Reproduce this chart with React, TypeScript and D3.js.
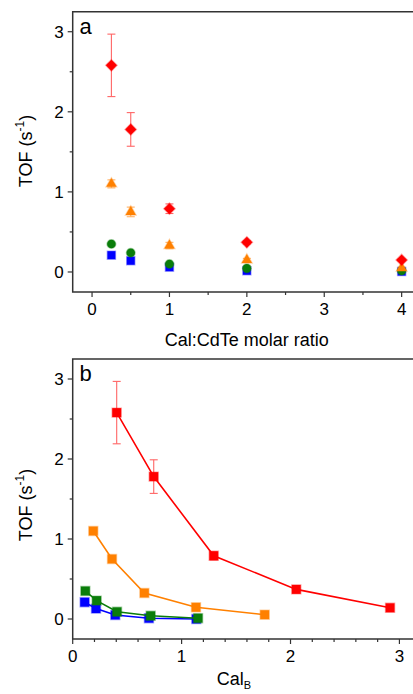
import React from "react";
import * as d3 from "d3";

// ---- Data (panel a: TOF vs CaI:CdTe molar ratio) ----
const ratioA = [0.25, 0.5, 1, 2, 4];
const redA = [2.58, 1.78, 0.79, 0.37, 0.15];
const redErrA = [0.39, 0.21, 0.06, 0.02, 0.01];
const orangeA = [1.1, 0.75, 0.33, 0.15, 0.05];
const orangeErrA = [0.05, 0.06, 0.04, 0.02, 0.01];
const greenA = [0.35, 0.24, 0.1, 0.045, 0.015];
const blueA = [0.21, 0.14, 0.06, 0.015, 0.005];

// ---- Data (panel b: TOF vs CaI_B) ----
const redBx = [0.404, 0.744, 1.295, 2.053, 2.914];
const redBy = [2.58, 1.78, 0.79, 0.37, 0.14];
const redErrB = [0.39, 0.21, 0.05, 0.02, 0.01];
const orangeBx = [0.189, 0.361, 0.658, 1.132, 1.763];
const orangeBy = [1.1, 0.75, 0.325, 0.146, 0.054];
const greenBx = [0.116, 0.22, 0.407, 0.716, 1.151];
const greenBy = [0.35, 0.23, 0.09, 0.04, 0.01];
const blueBx = [0.11, 0.214, 0.391, 0.7, 1.135];
const blueBy = [0.21, 0.13, 0.05, 0.01, 0.0];

const yTicks = [0, 1, 2, 3];
const yMinor = [0.5, 1.5, 2.5];
const xTicksA = [0, 1, 2, 3, 4];
const xMinorA = [0.5, 1.5, 2.5, 3.5];
const xTicksB = [0, 1, 2, 3];
const xMinorB = [0.2, 0.4, 0.6, 0.8, 1.2, 1.4, 1.6, 1.8, 2.2, 2.4, 2.6, 2.8, 3.2];

const RED = "#ff0000";
const ORANGE = "#ff8000";
const GREEN = "#0a7d0a";
const BLUE = "#0000ff";
const AXIS = "#333";
const FONT = "'Liberation Sans', Arial, sans-serif";

const xA = d3.scaleLinear().domain([-0.25, 4.25]).range([72.7, 421]);
const yA = d3.scaleLinear().domain([-0.25, 3.25]).range([292, 11.7]);
const xB = d3.scaleLinear().domain([0, 3.2]).range([72.7, 421.2]);
const yB = d3.scaleLinear().domain([-0.25, 3.25]).range([639, 359]);

const diamond = d3.symbol().type(d3.symbolSquare).size(62)();
const triangle = d3.symbol().type(d3.symbolTriangle).size(46)();
const circle = d3.symbol().type(d3.symbolCircle).size(58)();
const squareA = d3.symbol().type(d3.symbolSquare).size(64)();
const squareB = d3.symbol().type(d3.symbolSquare).size(80)();

type Sc = d3.ScaleLinear<number, number>;

function Axes({ x, y, xt, xm, yLabelY, letter, xLabel, xLabelX, xLabelY }: {
  x: Sc; y: Sc; xt: number[]; xm: number[]; yLabelY: number; letter: string;
  xLabel: React.ReactNode; xLabelX: number; xLabelY: number;
}) {
  const [x0, x1] = x.range();
  const [y0, y1] = y.range();
  return (
    <g fontFamily={FONT} fill="#000">
      <path d={`M${x1 + 5},${y1}H${x0}V${y0}H${x1 + 5}`} fill="none" stroke={AXIS} strokeWidth={1.5} />
      {xt.map((t) => (
        <g key={"xt" + t}>
          <line x1={x(t)} x2={x(t)} y1={y0} y2={y0 + 5} stroke={AXIS} strokeWidth={1.2} />
          <text x={x(t)} y={y0 + 23} textAnchor="middle" fontSize={17}>{t}</text>
        </g>
      ))}
      {xm.map((t) => (
        <line key={"xm" + t} x1={x(t)} x2={x(t)} y1={y0} y2={y0 + 3} stroke={AXIS} strokeWidth={1.2} />
      ))}
      {yTicks.map((t) => (
        <g key={"yt" + t}>
          <line x1={x0 - 5} x2={x0} y1={y(t)} y2={y(t)} stroke={AXIS} strokeWidth={1.2} />
          <text x={x0 - 9} y={y(t) + 6} textAnchor="end" fontSize={17}>{t}</text>
        </g>
      ))}
      {yMinor.map((t) => (
        <line key={"ym" + t} x1={x0 - 3} x2={x0} y1={y(t)} y2={y(t)} stroke={AXIS} strokeWidth={1.2} />
      ))}
      <text x={79.5} y={y1 + 22} fontSize={22}>{letter}</text>
      <text transform={`translate(32,${yLabelY}) rotate(-90)`} textAnchor="middle" fontSize={18}>
        TOF (s<tspan fontSize={12} dy={-8}>-1</tspan><tspan dy={8}>)</tspan>
      </text>
      <text x={xLabelX} y={xLabelY} textAnchor="middle" fontSize={18}>{xLabel}</text>
    </g>
  );
}

function ErrBars({ xs, ys, errs, x, y, color }: { xs: number[]; ys: number[]; errs: number[]; x: Sc; y: Sc; color: string }) {
  return (
    <g stroke={color} strokeWidth={1.1} opacity={0.6}>
      {xs.map((v, i) => (
        <g key={i}>
          <line x1={x(v)} x2={x(v)} y1={y(ys[i] - errs[i])} y2={y(ys[i] + errs[i])} />
          <line x1={x(v) - 4} x2={x(v) + 4} y1={y(ys[i] - errs[i])} y2={y(ys[i] - errs[i])} />
          <line x1={x(v) - 4} x2={x(v) + 4} y1={y(ys[i] + errs[i])} y2={y(ys[i] + errs[i])} />
        </g>
      ))}
    </g>
  );
}

function Markers({ xs, ys, x, y, path, color, rot = 0 }: { xs: number[]; ys: number[]; x: Sc; y: Sc; path: string | null; color: string; rot?: number }) {
  return (
    <g fill={color} stroke={color} strokeOpacity={0.35} strokeWidth={1.5}>
      {xs.map((v, i) => (
        <path key={i} d={path || ""} transform={`translate(${x(v)},${y(ys[i])}) rotate(${rot})`} />
      ))}
    </g>
  );
}

function Series({ xs, ys, x, y, color }: { xs: number[]; ys: number[]; x: Sc; y: Sc; color: string }) {
  const line = d3.line<number>().x((v) => x(v)).y((_, i) => y(ys[i]));
  return (
    <g>
      <path d={line(xs) || ""} fill="none" stroke={color} strokeWidth={1.6} />
      <Markers xs={xs} ys={ys} x={x} y={y} path={squareB} color={color} />
    </g>
  );
}

export default function App() {
  return (
    <svg width={413} height={694} style={{ position: "absolute", left: 0, top: 0, background: "#fff" }}>
      {/* Panel a */}
      <Axes x={xA} y={yA} xt={xTicksA} xm={xMinorA} yLabelY={151} letter="a"
        xLabel="Cal:CdTe molar ratio" xLabelX={xA(2)} xLabelY={346} />
      <ErrBars xs={ratioA} ys={redA} errs={redErrA} x={xA} y={yA} color={RED} />
      <ErrBars xs={ratioA} ys={orangeA} errs={orangeErrA} x={xA} y={yA} color={ORANGE} />
      <Markers xs={ratioA} ys={blueA} x={xA} y={yA} path={squareA} color={BLUE} />
      <Markers xs={ratioA} ys={greenA} x={xA} y={yA} path={circle} color={GREEN} />
      <Markers xs={ratioA} ys={orangeA} x={xA} y={yA} path={triangle} color={ORANGE} />
      <Markers xs={ratioA} ys={redA} x={xA} y={yA} path={diamond} color={RED} rot={45} />

      {/* Panel b */}
      <Axes x={xB} y={yB} xt={xTicksB} xm={xMinorB} yLabelY={505} letter="b"
        xLabel={<>Cal<tspan fontSize={11} dy={4}>B</tspan></>} xLabelX={234} xLabelY={685} />
      <ErrBars xs={redBx} ys={redBy} errs={redErrB} x={xB} y={yB} color={RED} />
      <Series xs={blueBx} ys={blueBy} x={xB} y={yB} color={BLUE} />
      <Series xs={greenBx} ys={greenBy} x={xB} y={yB} color={GREEN} />
      <Series xs={orangeBx} ys={orangeBy} x={xB} y={yB} color={ORANGE} />
      <Series xs={redBx} ys={redBy} x={xB} y={yB} color={RED} />
    </svg>
  );
}
